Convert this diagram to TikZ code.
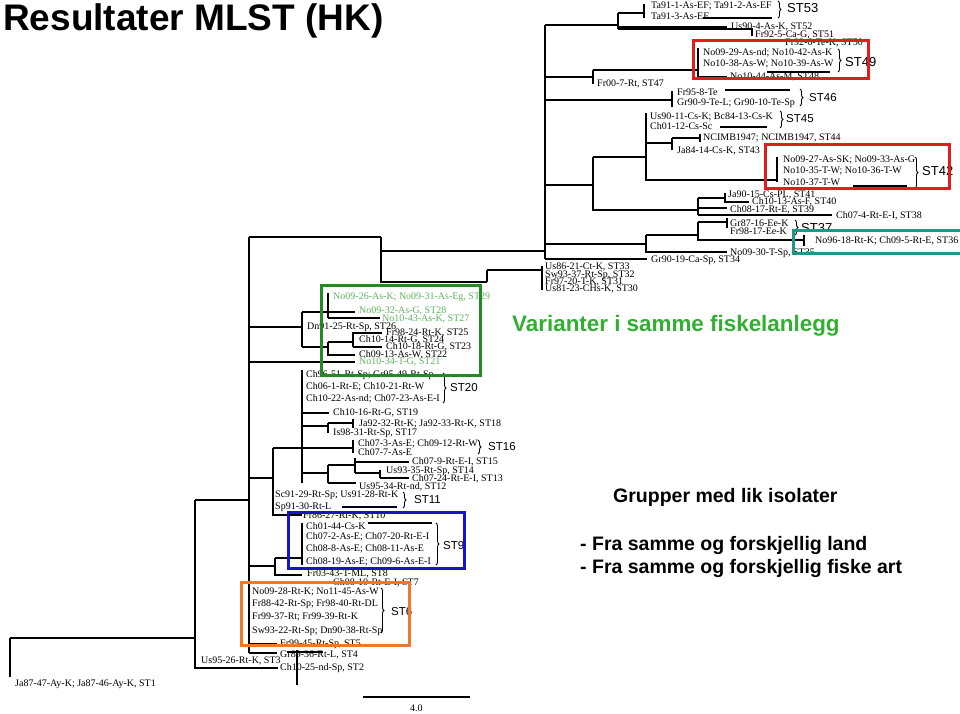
\documentclass[tikz,border=0pt]{standalone}
\usepackage{fontspec}
\setmainfont{Liberation Serif}
\setsansfont{Liberation Sans}
\usetikzlibrary{decorations.pathreplacing}
\definecolor{boxred}{RGB}{224,30,30}
\definecolor{boxgreen}{RGB}{34,139,34}
\definecolor{txtgreen}{RGB}{95,180,95}
\definecolor{vargreen}{RGB}{50,175,50}
\definecolor{boxblue}{RGB}{20,20,205}
\definecolor{boxorange}{RGB}{240,120,40}
\definecolor{boxteal}{RGB}{30,150,136}
\begin{document}
\begin{tikzpicture}[x=1pt,y=-1pt,
  lbl/.style={anchor=west,inner sep=0pt,font=\fontsize{10}{10}\selectfont},
  glbl/.style={lbl,text=txtgreen},
  stl/.style={anchor=west,inner sep=0pt,font=\sffamily\fontsize{11.5}{11.5}\selectfont},
  stb/.style={anchor=west,inner sep=0pt,font=\sffamily\fontsize{13}{13}\selectfont},
  br/.style={decorate,decoration={brace,amplitude=3pt},line width=0.9pt},
  tr/.style={line width=1.6pt},
  hbox/.style={line width=3pt},
  big/.style={anchor=west,inner sep=0pt,font=\sffamily\bfseries\fontsize{19.5}{19.5}\selectfont}
]
\useasboundingbox (0,0) rectangle (960,713);
\fill[white] (0,0) rectangle (960,713);

% ---------------- titles
\node[anchor=west,inner sep=0pt,font=\sffamily\bfseries\fontsize{37}{37}\selectfont] (title) at (3,21) {Resultater MLST (HK)};
\node[anchor=west,inner sep=0pt,text=vargreen,font=\sffamily\bfseries\fontsize{22.4}{22.4}\selectfont] (var) at (512,326) {Varianter i samme fiskelanlegg};
\node[big] (grp) at (613,497) {Grupper med lik isolater};
\node[big] (g1) at (580,545) {- Fra samme og forskjellig land};
\node[big] (g2) at (580,568) {- Fra samme og forskjellig fiske art};

% ---------------- tree lines (upper clade)
\draw[tr] (644,4)--(644,18);
\draw[tr] (618,13)--(644,13);
\draw[tr] (618,13)--(618,29);
\draw[tr] (618,27)--(727,27);
\draw[tr] (618,29)--(752,29)--(752,36);
\draw[tr] (545,25)--(618,25);
\draw[tr] (703,18)--(772,18);
\draw[tr] (593,70)--(698,70);
\draw[tr] (698,48)--(698,77)--(727,77);
\draw[tr] (767,72)--(830,72);
\draw[tr] (593,70)--(593,84);
\draw[tr] (545,77)--(593,77);
\draw[tr] (545,25)--(545,259);
\draw[tr] (545,100)--(672,100);
\draw[tr] (672,91)--(672,107);
\draw[tr] (725,90)--(790,90);
\draw[tr] (646,113)--(646,180)--(777,180);
\draw[tr] (777,157)--(777,182);
\draw[tr] (646,143)--(672,143);
\draw[tr] (672,138)--(672,150);
\draw[tr] (672,138)--(700,138);
\draw[tr] (700,134)--(700,142);
\draw[tr] (720,127)--(767,127);
\draw[tr] (853,186)--(907,186);
\draw[tr] (593,157)--(646,157);
\draw[tr] (593,157)--(593,210)--(698,210);
\draw[tr] (545,185)--(593,185);
\draw[tr] (698,198)--(698,215);
\draw[tr] (698,198)--(725,198);
\draw[tr] (725,193)--(725,203);
\draw[tr] (725,202)--(749,202);
\draw[tr] (698,208)--(727,208);
\draw[tr] (698,215)--(832,215);
\draw[tr] (646,235)--(646,252)--(727,252);
\draw[tr] (646,235)--(698,235);
\draw[tr] (698,222)--(698,240)--(804,240);
\draw[tr] (804,235)--(804,246);
\draw[tr] (698,222)--(727,222);
\draw[tr] (727,218)--(727,228);
\draw[tr] (545,244)--(646,244);
\draw[tr] (545,259)--(647,259);
\draw[tr] (381,251)--(545,251);
\draw[tr] (381,237)--(381,282)--(460,282);
\draw[tr] (487,270)--(487,282);
\draw[tr] (487,270)--(542,270);
\draw[tr] (542,266)--(542,290);
\draw[tr] (460,282)--(487,282);

% ---------------- tree lines (middle / lower)
\draw[tr] (249,237)--(249,653);
\draw[tr] (249,237)--(381,237);
\draw[tr] (249,327)--(302,327);
\draw[tr] (302,312)--(302,347);
\draw[tr] (302,312)--(328,312);
\draw[tr] (328,293)--(328,318);
\draw[tr] (328,312)--(355,312);
\draw[tr] (328,318)--(380,318);
\draw[tr] (302,347)--(328,347);
\draw[tr] (328,342)--(328,355)--(355,355);
\draw[tr] (328,342)--(353,342);
\draw[tr] (353,332)--(353,347);
\draw[tr] (353,333)--(382,333);
\draw[tr] (353,347)--(382,347);
\draw[tr] (249,362)--(355,362);
\draw[tr] (302,370)--(302,483);
\draw[tr] (302,413)--(329,413);
\draw[tr] (302,426)--(328,426);
\draw[tr] (328,423)--(328,433);
\draw[tr] (328,423)--(353,423);
\draw[tr] (353,419)--(353,428);
\draw[tr] (353,440)--(353,453);
\draw[tr] (302,448)--(353,448);
\draw[tr] (273,448)--(302,448);
\draw[tr] (273,448)--(273,515)--(302,515);
\draw[tr] (249,478)--(273,478);
\draw[tr] (302,473)--(328,473);
\draw[tr] (328,465)--(328,483);
\draw[tr] (328,465)--(355,465);
\draw[tr] (355,458)--(355,473);
\draw[tr] (355,462)--(409,462);
\draw[tr] (355,473)--(380,473);
\draw[tr] (380,470)--(380,478);
\draw[tr] (380,478)--(409,478);
\draw[tr] (328,483)--(356,483);
\draw[tr] (342,507)--(397,507);
\draw[tr] (302,523)--(302,565);
\draw[tr] (368,523)--(432,523);
\draw[tr] (249,566)--(275,566);
\draw[tr] (275,558)--(275,575)--(302,575);
\draw[tr] (275,558)--(302,558);
\draw[tr] (249,653)--(277,653);
\draw[tr] (249,644)--(277,644);
\draw[tr] (195,500)--(249,500);
\draw[tr] (195,500)--(195,668)--(278,668);
\draw[tr] (10,638)--(195,638);
\draw[tr] (10,638)--(10,677);
\draw[tr] (297,650)--(297,685);
\draw[tr] (287,652)--(323,652);
% scale bar
\draw[line width=1.2pt] (363,697)--(470,697);
\node[lbl] (scale) at (410,708) {4.0};

% ---------------- labels
\node[lbl] (l53a) at (651,6) {Ta91-1-As-EF; Ta91-2-As-EF};
\node[lbl] (l53b) at (651,16) {Ta91-3-As-EF};
\node[lbl] (l52) at (731,27) {Us90-4-As-K, ST52};
\node[lbl] (l51) at (755,35) {Fr92-5-Ca-G, ST51};
\node[lbl] (l50) at (785,43) {Fr92-6-Te-K, ST50};
\node[lbl] (l49a) at (703,53) {No09-29-As-nd; No10-42-As-K};
\node[lbl] (l49b) at (703,64) {No10-38-As-W; No10-39-As-W};
\node[lbl] (l48) at (730,77) {No10-44-As-M, ST48};
\node[lbl] (l47) at (597,84) {Fr00-7-Rt, ST47};
\node[lbl] (l46a) at (677,92) {Fr95-8-Te};
\node[lbl] (l46b) at (677,103) {Gr90-9-Te-L; Gr90-10-Te-Sp};
\node[lbl] (l45a) at (650,117) {Us90-11-Cs-K; Bc84-13-Cs-K};
\node[lbl] (l45b) at (650,126) {Ch01-12-Cs-Sc};
\node[lbl] (l44) at (703,138) {NCIMB1947; NCIMB1947, ST44};
\node[lbl] (l43) at (677,151) {Ja84-14-Cs-K, ST43};
\node[lbl] (l42a) at (783,160) {No09-27-As-SK; No09-33-As-G};
\node[lbl] (l42b) at (783,171) {No10-35-T-W; No10-36-T-W};
\node[lbl] (l42c) at (783,182) {No10-37-T-W};
\node[lbl] (l41) at (728,195) {Ja90-15-Cs-PL, ST41};
\node[lbl] (l40) at (752,202) {Ch10-13-As-F, ST40};
\node[lbl] (l39) at (730,210) {Ch08-17-Rt-E, ST39};
\node[lbl] (l38) at (836,216) {Ch07-4-Rt-E-I, ST38};
\node[lbl] (l37a) at (730,223) {Gr87-16-Ee-K};
\node[lbl] (l37b) at (730,231) {Fr98-17-Ee-K};
\node[lbl] (l36) at (815,241) {No96-18-Rt-K; Ch09-5-Rt-E, ST36};
\node[lbl] (l35) at (730,253) {No09-30-T-Sp, ST35};
\node[lbl] (l34) at (651,260) {Gr90-19-Ca-Sp, ST34};
\node[lbl] (l33) at (545,267) {Us86-21-Ct-K, ST33};
\node[lbl] (l32) at (545,275) {Sw93-37-Rt-Sp, ST32};
\node[lbl] (l31) at (545,282) {Fr97-20-T-K, ST31};
\node[lbl] (l30) at (545,289) {Us81-23-CHs-K, ST30};
\node[glbl] (l29) at (333,297) {No09-26-As-K; No09-31-As-Eg, ST29};
\node[glbl] (l28) at (359,311) {No09-32-As-G, ST28};
\node[glbl] (l27) at (382,319) {No10-43-As-K, ST27};
\node[lbl] (l26) at (307,327) {Dn91-25-Rt-Sp, ST26};
\node[lbl] (l25) at (386,333) {Fr98-24-Rt-K, ST25};
\node[lbl] (l24) at (359,340) {Ch10-14-Rt-G, ST24};
\node[lbl] (l23) at (386,347) {Ch10-18-Rt-G, ST23};
\node[lbl] (l22) at (359,355) {Ch09-13-As-W, ST22};
\node[glbl] (l21) at (359,362) {No10-34-T-G, ST21};
\node[lbl] (l20a) at (306,375) {Ch96-51-Rt-Sp; Gr95-49-Rt-Sp};
\node[lbl] (l20b) at (306,387) {Ch06-1-Rt-E; Ch10-21-Rt-W};
\node[lbl] (l20c) at (306,399) {Ch10-22-As-nd; Ch07-23-As-E-I};
\node[lbl] (l19) at (333,413) {Ch10-16-Rt-G, ST19};
\node[lbl] (l18) at (359,424) {Ja92-32-Rt-K; Ja92-33-Rt-K, ST18};
\node[lbl] (l17) at (333,433) {Is98-31-Rt-Sp, ST17};
\node[lbl] (l16a) at (358,444) {Ch07-3-As-E; Ch09-12-Rt-W};
\node[lbl] (l16b) at (358,452) {Ch07-7-As-E};
\node[lbl] (l15) at (412,462) {Ch07-9-Rt-E-I, ST15};
\node[lbl] (l14) at (386,471) {Us93-35-Rt-Sp, ST14};
\node[lbl] (l13) at (412,479) {Ch07-24-Rt-E-I, ST13};
\node[lbl] (l12) at (359,487) {Us95-34-Rt-nd, ST12};
\node[lbl] (l11a) at (275,495) {Sc91-29-Rt-Sp; Us91-28-Rt-K};
\node[lbl] (l11b) at (275,507) {Sp91-30-Rt-L};
\node[lbl] (l10) at (303,516) {Fr86-27-Rt-K, ST10};
\node[lbl] (l9a) at (306,526) {Ch01-44-Cs-K};
\node[lbl] (l9b) at (306,537) {Ch07-2-As-E; Ch07-20-Rt-E-I};
\node[lbl] (l9c) at (306,549) {Ch08-8-As-E; Ch08-11-As-E};
\node[lbl] (l9d) at (306,562) {Ch08-19-As-E; Ch09-6-As-E-I};
\node[lbl] (l8) at (307,574) {Fr03-43-T-ML, ST8};
\node[lbl] (l7) at (333,583) {Ch08-10-Rt-E-I, ST7};
\node[lbl] (l6a) at (252,592) {No09-28-Rt-K; No11-45-As-W};
\node[lbl] (l6b) at (252,604) {Fr88-42-Rt-Sp; Fr98-40-Rt-DL};
\node[lbl] (l6c) at (252,617) {Fr99-37-Rt; Fr99-39-Rt-K};
\node[lbl] (l6d) at (252,631) {Sw93-22-Rt-Sp; Dn90-38-Rt-Sp};
\node[lbl] (l5) at (280,644) {Fr99-45-Rt-Sp, ST5};
\node[lbl] (l4) at (280,655) {Gr89-36-Rt-L, ST4};
\node[lbl] (l3) at (201,661) {Us95-26-Rt-K, ST3};
\node[lbl] (l2) at (280,668) {Ch10-25-nd-Sp, ST2};
\node[lbl] (l1) at (15,684) {Ja87-47-Ay-K; Ja87-46-Ay-K, ST1};

% ---------------- braces and ST names
\draw[br] (778,1)--(778,18);   \node[stb] (s53) at (787,8) {ST53};
\draw[br] (838,49)--(838,72);  \node[stb] (s49) at (845,62) {ST49};
\draw[br] (800,89)--(800,106); \node[stl] (s46) at (809,98) {ST46};
\draw[br] (780,111)--(780,128);\node[stl] (s45) at (786,119) {ST45};
\draw[br] (915,157)--(915,188);\node[stb] (s42) at (922,171) {ST42};
\draw[br] (795,220)--(795,235);\node[stb] (s37) at (801,228) {ST37};
\draw[br] (443,373)--(443,403);\node[stl] (s20) at (450,388) {ST20};
\draw[br] (478,440)--(478,454);\node[stl] (s16) at (488,447) {ST16};
\draw[br] (403,492)--(403,508);\node[stl] (s11) at (414,500) {ST11};
\draw[br] (436,523)--(436,565);\node[stl] (s9) at (443,546) {ST9};
\draw[br] (381,588)--(381,633); \node[stl] (s6) at (391,612) {ST6};

% ---------------- highlight boxes
\draw[hbox,boxred] (693,40) rectangle (868,78);
\draw[hbox,boxred] (765,144) rectangle (949,188);
\draw[hbox,boxteal] (793,230) rectangle (962,253);
\draw[hbox,boxgreen] (321,285) rectangle (480,375);
\draw[hbox,boxblue] (288,512) rectangle (464,568);
\draw[hbox,boxorange] (241,582) rectangle (409,645);
\end{tikzpicture}
\end{document}
